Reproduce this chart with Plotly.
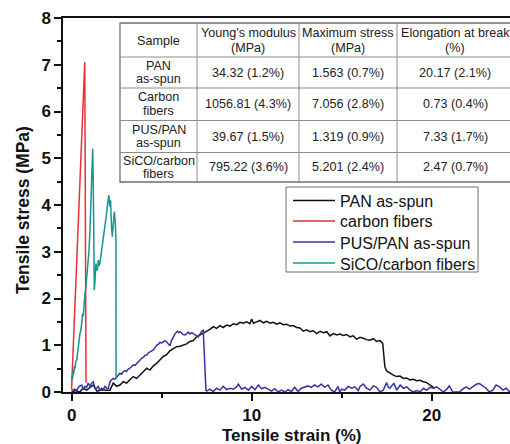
import plotly.graph_objects as go

# ---- stress-strain curves (strain in %, stress in MPa) ----
pan_strain = [0.0, 0.2, 0.46, 0.64, 0.83, 1.0, 1.2, 1.4, 1.67, 1.94, 2.13, 2.31, 2.5, 2.68, 2.87,
              3.05, 3.24, 3.42, 3.61, 3.79, 3.98, 4.17, 4.35, 4.54, 4.72, 4.91, 5.09, 5.28, 5.46,
              5.65, 5.83, 6.02, 6.2, 6.39, 6.57, 6.76, 6.94, 7.13, 7.31, 7.5, 7.68, 7.87, 8.05,
              8.24, 8.42, 8.61, 8.8, 8.98, 9.17, 9.35, 9.54, 9.72, 9.9, 10.0, 10.1, 10.28, 10.46,
              10.65, 10.83, 11.02, 11.2, 11.39, 11.57, 11.76, 11.94, 12.13, 12.31, 12.5, 12.68,
              12.87, 13.05, 13.24, 13.42, 13.61, 13.8, 13.98, 14.17, 14.35, 14.54, 14.72, 14.91,
              15.09, 15.28, 15.46, 15.65, 15.83, 16.02, 16.2, 16.39, 16.57, 16.76, 16.94, 17.13,
              17.28, 17.35, 17.4, 17.5, 17.68, 17.87, 18.05, 18.24, 18.43, 18.61, 18.79, 18.98,
              19.16, 19.35, 19.54, 19.72, 19.9, 20.05, 20.17]
pan_stress = [0.0, 0.03, 0.0, 0.08, 0.04, 0.1, 0.15, 0.02, 0.05, 0.04, 0.04, 0.19, 0.12, 0.15, 0.22,
              0.19, 0.26, 0.33, 0.29, 0.36, 0.44, 0.51, 0.47, 0.56, 0.61, 0.68, 0.76, 0.8, 0.88,
              0.93, 0.97, 0.98, 1.0, 1.03, 1.08, 1.1, 1.18, 1.22, 1.27, 1.3, 1.34, 1.4, 1.36,
              1.42, 1.38, 1.43, 1.41, 1.46, 1.44, 1.49, 1.47, 1.5, 1.46, 1.563, 1.47, 1.5, 1.53,
              1.48, 1.51, 1.47, 1.49, 1.45, 1.48, 1.44, 1.45, 1.41, 1.42, 1.38, 1.37,
              1.3, 1.33, 1.29, 1.31, 1.25, 1.3, 1.27, 1.29, 1.2, 1.25, 1.22, 1.24,
              1.21, 1.23, 1.18, 1.2, 1.13, 1.17, 1.15, 1.12, 1.11, 1.14, 1.08, 1.1,
              1.04, 0.8, 0.54, 0.45, 0.4, 0.36, 0.33, 0.34, 0.29, 0.3, 0.26, 0.27,
              0.24, 0.25, 0.22, 0.2, 0.15, 0.12, 0.08]

carbon_strain = [0.0, 0.02, 0.73, 0.8]
carbon_stress = [0.05, 0.3, 7.056, 0.2]

pus_strain = [0.0, 0.14, 0.28, 0.42, 0.56, 0.65, 0.74, 0.83, 0.92, 1.02, 1.11, 1.2, 1.3, 1.39,
              1.48, 1.57, 1.67, 1.76, 1.85, 1.94, 2.04, 2.13, 2.22, 2.31, 2.4, 2.5, 2.59, 2.68,
              2.78, 2.87, 2.96, 3.05, 3.14, 3.24, 3.33, 3.42, 3.52, 3.61, 3.7, 3.79, 3.89, 3.98,
              4.07, 4.17, 4.26, 4.35, 4.44, 4.54, 4.63, 4.72, 4.81, 4.91, 5.0, 5.09, 5.18, 5.28,
              5.37, 5.46, 5.55, 5.65, 5.75, 5.87, 5.95, 6.02, 6.11, 6.2, 6.3, 6.39, 6.48, 6.57,
              6.67, 6.76, 6.85, 6.94, 7.04, 7.13, 7.22, 7.31, 7.4, 7.46,
              7.5, 7.68, 7.87, 8.05, 8.24, 8.42, 8.61, 8.8, 8.98, 9.17, 9.26, 9.45, 9.63, 9.82,
              10.0, 10.19, 10.37, 10.56, 10.74, 10.93, 11.1, 11.29, 11.47, 11.66, 11.84, 12.02,
              12.21, 12.39, 12.58, 12.76, 12.94, 13.13, 13.31, 13.5, 13.68, 13.87, 14.05, 14.24,
              14.42, 14.61, 14.8, 14.89, 15.0, 15.17, 15.36, 15.55, 15.73, 15.92, 16.02, 16.2,
              16.39, 16.57, 16.76, 16.94, 17.13, 17.31, 17.5, 17.59, 17.68, 17.9, 18.06, 18.25,
              18.43, 18.62, 18.8, 18.99, 19.17, 19.36, 19.54, 19.72, 19.91, 20.1, 20.28, 20.47,
              20.65, 20.84, 20.98, 21.17, 21.35, 21.54, 21.72, 21.91, 22.09, 22.28, 22.5, 22.65,
              22.84, 23.02, 23.21, 23.4, 23.58, 23.77, 23.95, 24.14, 24.33, 24.5]
pus_stress = [0.01, 0.06, 0.04, 0.12, 0.15, 0.05, 0.12, 0.1, 0.19, 0.12, 0.19, 0.22, 0.08, 0.08,
              0.12, 0.04, 0.08, 0.05, 0.12, 0.08, 0.08, 0.22, 0.26, 0.29, 0.27, 0.33, 0.36, 0.4,
              0.38, 0.44, 0.46, 0.44, 0.49, 0.51, 0.55, 0.58, 0.57, 0.61, 0.64, 0.68, 0.72, 0.74,
              0.78, 0.79, 0.84, 0.86, 0.88, 0.9, 0.95, 1.0, 1.02, 1.06, 1.05, 1.08, 1.1, 1.07,
              1.02, 0.99, 1.1, 1.18, 1.25, 1.3, 1.27, 1.29, 1.25, 1.23, 1.22, 1.26, 1.28, 1.24,
              1.27, 1.25, 1.22, 1.2, 1.18, 1.25, 1.3, 1.319, 0.47, 0.04,
              0.02, 0.06, 0.01, 0.08, 0.04, 0.12, 0.05, 0.08, 0.06, 0.11, 0.17, 0.06, 0.1, 0.04,
              0.12, 0.05, 0.15, 0.07, 0.1, 0.05, 0.02, 0.07, 0.0, 0.04, 0.0, 0.05,
              0.01, 0.1, 0.01, 0.08, 0.11, 0.13, 0.1, 0.15, 0.11, 0.17, 0.1, 0.15,
              0.04, 0.0, 0.12, 0.0, 0.06, 0.04, 0.12, 0.08, 0.11, 0.03, 0.12, 0.17,
              0.08, 0.04, 0.13, 0.1, 0.0, 0.04, 0.2, 0.1, 0.08, 0.19, 0.04, 0.15,
              0.08, 0.11, 0.04, 0.0, 0.03, 0.0, 0.08, 0.04, 0.1, 0.08, 0.11, 0.06,
              0.0, 0.06, 0.13, 0.0, 0.0, 0.0, 0.06, 0.11, 0.06, 0.12, 0.17, 0.18,
              0.13, 0.08, 0.0, 0.04, 0.15, 0.11, 0.04, 0.08, 0.0, 0.08]

sico_strain = [0.0, 0.03, 0.06, 0.09, 0.12, 0.15, 0.19, 0.23, 0.28, 0.32, 0.37, 0.41, 0.46, 0.5,
               0.56, 0.61, 0.65, 0.68, 0.74, 0.78, 0.83, 0.87, 0.9, 0.92, 0.96, 1.02, 1.05, 1.07,
               1.11, 1.14, 1.17, 1.2, 1.22, 1.26, 1.3, 1.33, 1.35, 1.39, 1.43, 1.48, 1.52, 1.57,
               1.62, 1.67, 1.72, 1.76, 1.8, 1.85, 1.9, 1.94, 2.0, 2.04, 2.07, 2.1, 2.13, 2.16,
               2.18, 2.22, 2.26, 2.31, 2.37, 2.42, 2.46, 2.47]
sico_stress = [0.22, 0.35, 0.29, 0.47, 0.38, 0.55, 0.5, 0.66, 0.68, 0.85, 0.97, 1.08, 1.25, 1.3,
               1.47, 1.68, 1.62, 1.9, 2.11, 2.2, 2.4, 2.68, 2.72, 2.75, 3.0, 3.47, 3.9, 4.32,
               4.68, 4.9, 5.201, 4.53, 3.47, 2.18, 2.4, 2.55, 2.75, 2.62, 2.6, 2.82, 2.7, 2.75,
               2.9, 2.97, 3.1, 3.25, 3.35, 3.47, 3.65, 3.82, 4.04, 4.15, 4.21, 4.05, 3.96, 4.1,
               3.75, 3.5, 3.32, 3.61, 3.86, 3.64, 3.32, 0.3]

series_names = ["PAN as-spun", "carbon fibers", "PUS/PAN as-spun", "SiCO/carbon fibers"]
series_colors = ["#111111", "#e8303a", "#3535a5", "#179494"]

# ---- property table ----
table_header = ["Sample", "Young's modulus\n(MPa)", "Maximum stress\n(MPa)", "Elongation at break\n(%)"]
table_samples = ["PAN\nas-spun", "Carbon\nfibers", "PUS/PAN\nas-spun", "SiCO/carbon\nfibers"]
youngs_modulus = ["34.32 (1.2%)", "1056.81 (4.3%)", "39.67 (1.5%)", "795.22 (3.6%)"]
maximum_stress = ["1.563 (0.7%)", "7.056 (2.8%)", "1.319 (0.9%)", "5.201 (2.4%)"]
elongation = ["20.17 (2.1%)", "0.73 (0.4%)", "7.33 (1.7%)", "2.47 (0.7%)"]

x_ticks = [0, 10, 20]
y_ticks = [0, 1, 2, 3, 4, 5, 6, 7, 8]

FONT = "Liberation Sans, Arial, sans-serif"
W, H = 510, 444
ML, MR, MT, MB = 63, 0, 18, 52
PW, PH = W - ML - MR, H - MT - MB


def px_x(px):
    return (px - ML) / PW


def px_y(py):
    return (H - MB - py) / PH


fig = go.Figure()
curves = [(pan_strain, pan_stress), (carbon_strain, carbon_stress),
          (pus_strain, pus_stress), (sico_strain, sico_stress)]
for (xs, ys), name, color in zip(curves, series_names, series_colors):
    fig.add_trace(go.Scatter(x=xs, y=ys, mode="lines", name=name, showlegend=False,
                             line=dict(color=color, width=1.5)))

shapes = []
annotations = []

# table grid
col_edges = [120, 197, 299, 397, 513]
row_edges = [23, 57, 88, 120.5, 152.5, 182]
grid_color = "#8c8c8c"
shapes.append(dict(type="rect", xref="paper", yref="paper",
                   x0=px_x(col_edges[0]), x1=px_x(col_edges[-1]),
                   y0=px_y(row_edges[-1]), y1=px_y(row_edges[0]),
                   line=dict(color="#707070", width=1.3), fillcolor="white", layer="above"))
for ry in row_edges[1:-1]:
    shapes.append(dict(type="line", xref="paper", yref="paper",
                       x0=px_x(col_edges[0]), x1=px_x(col_edges[-1]),
                       y0=px_y(ry), y1=px_y(ry), line=dict(color=grid_color, width=1)))
for cx in col_edges[1:-1]:
    shapes.append(dict(type="line", xref="paper", yref="paper",
                       x0=px_x(cx), x1=px_x(cx),
                       y0=px_y(row_edges[-1]), y1=px_y(row_edges[0]),
                       line=dict(color=grid_color, width=1)))

table_rows = [table_header] + [list(r) for r in zip(table_samples, youngs_modulus, maximum_stress, elongation)]
for ri, row in enumerate(table_rows):
    cy = (row_edges[ri] + row_edges[ri + 1]) / 2
    line_gap = 13.5
    if ri == 0:
        # header lines carry descenders and parentheses: a little more room
        line_gap = 15
        cy += 0.5
    for ci, cell in enumerate(row):
        cx = (col_edges[ci] + col_edges[ci + 1]) / 2
        parts = cell.split("\n")
        n = len(parts)
        for k, part in enumerate(parts):
            py = cy + (k - (n - 1) / 2) * line_gap
            annotations.append(dict(text=part, xref="paper", yref="paper",
                                    x=px_x(cx), y=px_y(py), xanchor="center", yanchor="middle",
                                    showarrow=False, borderpad=0,
                                    font=dict(family=FONT, size=12.6, color="#222222")))

# legend box with a line sample and label per series
leg_left, leg_right, leg_top, leg_bottom = 286, 478, 187, 272
leg_rows = [200.5, 221, 242, 263]
shapes.append(dict(type="rect", xref="paper", yref="paper",
                   x0=px_x(leg_left), x1=px_x(leg_right), y0=px_y(leg_bottom), y1=px_y(leg_top),
                   line=dict(color="#707070", width=1), fillcolor="white", layer="above"))
for ly, name, color in zip(leg_rows, series_names, series_colors):
    shapes.append(dict(type="line", xref="paper", yref="paper",
                       x0=px_x(293), x1=px_x(335), y0=px_y(ly), y1=px_y(ly),
                       line=dict(color=color, width=1.5), layer="above"))
    annotations.append(dict(text=name, xref="paper", yref="paper",
                            x=px_x(338), y=px_y(ly + 1), xanchor="left", yanchor="middle",
                            showarrow=False,
                            font=dict(family=FONT, size=16, color="#111111")))

# axis titles
annotations.append(dict(text="Tensile strain (%)", xref="x", yref="paper",
                        x=12.25, y=px_y(435), xanchor="center", yanchor="middle",
                        showarrow=False,
                        font=dict(family=FONT, size=17, color="#111111", weight="bold")))
annotations.append(dict(text="Tensile stress (MPa)", xref="paper", yref="paper",
                        x=px_x(23), y=px_y(210), xanchor="center", yanchor="middle",
                        textangle=-90, showarrow=False,
                        font=dict(family=FONT, size=17.5, color="#111111", weight="bold")))

fig.update_layout(
    width=W, height=H,
    margin=dict(l=ML, r=MR, t=MT, b=MB, pad=0),
    paper_bgcolor="white", plot_bgcolor="white",
    font=dict(family=FONT, color="#111111"),
    shapes=shapes, annotations=annotations,
    showlegend=False,
)
fig.update_xaxes(range=[-0.48, 24.35], tickvals=x_ticks, ticktext=[str(v) for v in x_ticks],
                 ticks="outside", ticklen=7, tickwidth=1.5, tickcolor="#111111",
                 showline=True, linewidth=1.5, linecolor="#111111", mirror=True,
                 showgrid=False, zeroline=False,
                 tickfont=dict(family=FONT, size=17, color="#111111", weight="bold"),
                 minor=dict(tickvals=[5, 15, 25], ticks="outside", ticklen=4, tickwidth=1.5,
                            tickcolor="#111111"))
fig.update_yaxes(range=[0, 8], tickvals=y_ticks, ticktext=[str(v) for v in y_ticks],
                 ticks="outside", ticklen=7, tickwidth=1.5, tickcolor="#111111",
                 showline=True, linewidth=1.5, linecolor="#111111", mirror=False,
                 showgrid=False, zeroline=False,
                 tickfont=dict(family=FONT, size=17, color="#111111", weight="bold"),
                 minor=dict(dtick=0.5, tick0=0, ticks="outside", ticklen=4, tickwidth=1.5,
                            tickcolor="#111111"))

fig.write_html("out.html")
